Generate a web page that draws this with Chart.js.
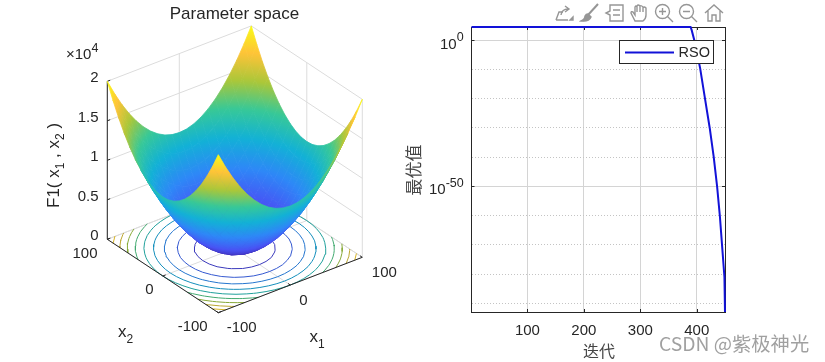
<!DOCTYPE html>
<html>
<head>
<meta charset="utf-8">
<title>Parameter space</title>
<script src="https://cdn.jsdelivr.net/npm/chart.js@4"></script>
<style>
  html, body { margin: 0; padding: 0; background: #fff; overflow: hidden; }
  #page { position: relative; width: 825px; height: 362px; }
  canvas { position: absolute; top: 0; }
  #surfaceChart { left: 0; }
  #curveChart { left: 400px; }
  .tool { position: absolute; top: 3px; width: 20px; height: 20px; fill: none; stroke: #969696; stroke-width: 1.4; }
</style>
</head>
<body>
<div id="page">
  <canvas id="surfaceChart" width="400" height="362"></canvas>
  <canvas id="curveChart" width="425" height="362"></canvas>
  <svg class="tool" style="left:554px" viewBox="0 0 20 20"><path d="M2 17 L5 9 H9 M2 17 H14"/><path d="M7 12 Q8 6 14 6 M11 3 L15 6 L11 9"/><path d="M16 17 L19 17 L19 14 Z" fill="#969696"/></svg>
  <svg class="tool" style="left:579px" viewBox="0 0 20 20"><path d="M19 1 L9 12" stroke-width="2"/><path d="M9 11 L12 14 Q10 19 2 18 Q6 16 6 13 Q7 11 9 11 Z" fill="#969696"/></svg>
  <svg class="tool" style="left:604px" viewBox="0 0 20 20"><path d="M6 2 H19 V18 H6 V12 L2 10 L6 8 Z"/><path d="M9 7 H16 M9 12 H16"/></svg>
  <svg class="tool" style="left:629px" viewBox="0 0 20 20"><path d="M6 18 L2 10 Q2 8 4 9 L6 12 V4 Q7 2 8 4 V9 V3 Q9 1 11 3 V9 V3 Q12 2 14 4 V9 V5 Q15 3 17 5 V12 Q17 16 14 18 Z"/></svg>
  <svg class="tool" style="left:654px" viewBox="0 0 20 20"><circle cx="8.5" cy="8.5" r="7"/><path d="M13.5 13.5 L19 19 M5 8.5 H12 M8.5 5 V12"/></svg>
  <svg class="tool" style="left:678px" viewBox="0 0 20 20"><circle cx="8.5" cy="8.5" r="7"/><path d="M13.5 13.5 L19 19 M5 8.5 H12"/></svg>
  <svg class="tool" style="left:704px" viewBox="0 0 20 20"><path d="M1 10 L10 2 L19 10 M4 8 V18 H8 V12 H12 V18 H16 V8"/></svg>
</div>
<script>
// surface grid (F1 in hundreds)
const gridX1 = [-100, -90, -80, -70, -60, -50, -40, -30, -20, -10, 0, 10, 20, 30, 40, 50, 60, 70, 80, 90, 100];
const gridX2 = [-100, -90, -80, -70, -60, -50, -40, -30, -20, -10, 0, 10, 20, 30, 40, 50, 60, 70, 80, 90, 100];
const surfaceHundreds = [
  [200,181,164,149,136,125,116,109,104,101,100,101,104,109,116,125,136,149,164,181,200],
  [181,162,145,130,117,106,97,90,85,82,81,82,85,90,97,106,117,130,145,162,181],
  [164,145,128,113,100,89,80,73,68,65,64,65,68,73,80,89,100,113,128,145,164],
  [149,130,113,98,85,74,65,58,53,50,49,50,53,58,65,74,85,98,113,130,149],
  [136,117,100,85,72,61,52,45,40,37,36,37,40,45,52,61,72,85,100,117,136],
  [125,106,89,74,61,50,41,34,29,26,25,26,29,34,41,50,61,74,89,106,125],
  [116,97,80,65,52,41,32,25,20,17,16,17,20,25,32,41,52,65,80,97,116],
  [109,90,73,58,45,34,25,18,13,10,9,10,13,18,25,34,45,58,73,90,109],
  [104,85,68,53,40,29,20,13,8,5,4,5,8,13,20,29,40,53,68,85,104],
  [101,82,65,50,37,26,17,10,5,2,1,2,5,10,17,26,37,50,65,82,101],
  [100,81,64,49,36,25,16,9,4,1,0,1,4,9,16,25,36,49,64,81,100],
  [101,82,65,50,37,26,17,10,5,2,1,2,5,10,17,26,37,50,65,82,101],
  [104,85,68,53,40,29,20,13,8,5,4,5,8,13,20,29,40,53,68,85,104],
  [109,90,73,58,45,34,25,18,13,10,9,10,13,18,25,34,45,58,73,90,109],
  [116,97,80,65,52,41,32,25,20,17,16,17,20,25,32,41,52,65,80,97,116],
  [125,106,89,74,61,50,41,34,29,26,25,26,29,34,41,50,61,74,89,106,125],
  [136,117,100,85,72,61,52,45,40,37,36,37,40,45,52,61,72,85,100,117,136],
  [149,130,113,98,85,74,65,58,53,50,49,50,53,58,65,74,85,98,113,130,149],
  [164,145,128,113,100,89,80,73,68,65,64,65,68,73,80,89,100,113,128,145,164],
  [181,162,145,130,117,106,97,90,85,82,81,82,85,90,97,106,117,130,145,162,181],
  [200,181,164,149,136,125,116,109,104,101,100,101,104,109,116,125,136,149,164,181,200]
];
const contourLevels = [2000, 4000, 6000, 8000, 10000, 12000, 14000, 16000, 18000];
const horizontalTicks = [-100, 0, 100];
const heightTicks = [0, 5000, 10000, 15000, 20000];
const heightTickLabels = ["0", "0.5", "1", "1.5", "2"];
const parula = [[62,38,168],[72,82,244],[46,135,247],[18,177,214],[55,200,151],[171,199,57],[254,195,56],[249,251,21]];

// convergence curve
const seriesName = "RSO";
const iterations = [1, 389, 391, 397, 406, 414, 423, 430, 436, 441, 445, 449, 450];
const bestValues = [3.5e4, 3.5e4, 3e3, 1e-1, 2.5e-10, 5e-20, 8e-31, 1.3e-40, 1e-50, 4e-61, 2e-71, 1e-81, 1e-93];
const iterationTicks = [100, 200, 300, 400];
const majorDecades = [0, -50];
const minorDecades = [-10, -20, -30, -40, -60, -70, -80, -90];

const SANS = '"Liberation Sans", Arial, sans-serif';
const CJK = '"Noto Sans CJK SC", sans-serif';
const INK = "#262626";

function project(x1, x2, z) {
  return {
    x: 234.8 + x1 * 0.72 - x2 * 0.555,
    y: 248.3 - x1 * 0.277 - x2 * 0.367 - z * 0.0079
  };
}

function heightColor(z, dim) {
  let t = Math.max(0, Math.min(1, z / 20000)) * (parula.length - 1);
  let i = Math.min(parula.length - 2, Math.floor(t));
  let f = t - i;
  let c = [0, 1, 2].map((k) => Math.round((parula[i][k] + (parula[i + 1][k] - parula[i][k]) * f) * (dim || 1)));
  return `rgb(${c[0]},${c[1]},${c[2]})`;
}

// shade one mesh cell along its height gradient, like shading interp
function cellFill(chart, pts, zs) {
  let zLow = Math.min(...zs), zHigh = Math.max(...zs);
  let flat = heightColor((zLow + zHigh) / 2);
  let px = pts.map((p) => ({ x: chart.scales.x.getPixelForValue(p.x), y: chart.scales.y.getPixelForValue(p.y) }));
  if (!isFinite(px[0].x) || !isFinite(px[0].y) || zHigh - zLow < 1) return flat;
  let ax = px[2].x - px[0].x, ay = px[2].y - px[0].y, az = zs[2] - zs[0];
  let bx = px[3].x - px[1].x, by = px[3].y - px[1].y, bz = zs[3] - zs[1];
  let det = ax * by - ay * bx;
  if (Math.abs(det) < 4) return flat;
  let gx = (az * by - ay * bz) / det, gy = (ax * bz - az * bx) / det;
  let g2 = gx * gx + gy * gy;
  if (g2 === 0) return flat;
  let s0 = (zLow - zs[0]) / g2, s1 = (zHigh - zs[0]) / g2;
  let grad = chart.ctx.createLinearGradient(px[0].x + gx * s0, px[0].y + gy * s0, px[0].x + gx * s1, px[0].y + gy * s1);
  for (let k = 0; k <= 8; k++) grad.addColorStop(k / 8, heightColor(zLow + (zHigh - zLow) * k / 8));
  return grad;
}

function lineSet(data, color, width) {
  return { data, showLine: true, borderColor: color, borderWidth: width, pointRadius: 0, fill: false, clip: false, spanGaps: false, tension: 0 };
}

function contourSet(level) {
  let segs = [];
  let edge = (i0, j0, i1, j1) => {
    let a = surfaceHundreds[i0][j0] * 100, b = surfaceHundreds[i1][j1] * 100;
    if ((a < level) === (b < level)) return null;
    let f = (level - a) / (b - a);
    return project(gridX1[i0] + (gridX1[i1] - gridX1[i0]) * f, gridX2[j0] + (gridX2[j1] - gridX2[j0]) * f, 0);
  };
  for (let i = 0; i < gridX1.length - 1; i++) {
    for (let j = 0; j < gridX2.length - 1; j++) {
      let hits = [edge(i, j, i + 1, j), edge(i + 1, j, i + 1, j + 1), edge(i + 1, j + 1, i, j + 1), edge(i, j + 1, i, j)].filter(Boolean);
      if (hits.length >= 2) segs.push(hits[0], hits[1], { x: NaN, y: NaN });
    }
  }
  return lineSet(segs, heightColor(level, 0.85), 1);
}

function buildSurfaceSets() {
  let sets = [];
  let wall = "#dcdcdc";
  // back walls and floor grid
  heightTicks.forEach((z) => {
    sets.push(lineSet([project(-100, 100, z), project(100, 100, z), project(100, -100, z)], wall, 1));
  });
  horizontalTicks.forEach((v) => {
    sets.push(lineSet([project(v, -100, 0), project(v, 100, 0), project(v, 100, 20000)], wall, 1));
    sets.push(lineSet([project(-100, v, 0), project(100, v, 0), project(100, v, 20000)], wall, 1));
  });
  contourLevels.forEach((l) => sets.push(contourSet(l)));
  // axes
  sets.push(lineSet([project(100, -100, 0), project(-100, -100, 0), project(-100, 100, 0), project(-100, 100, 20000)], INK, 1));
  horizontalTicks.forEach((v) => {
    sets.push(lineSet([project(v, -100, 0), project(v, -96, 0)], INK, 1));
    sets.push(lineSet([project(-100, v, 0), project(-96, v, 0)], INK, 1));
  });
  heightTicks.forEach((z) => sets.push(lineSet([project(-100, 100, z), project(-96, 100, z)], INK, 1)));
  // mesh, far corner first so the near cells paint over it
  for (let i = gridX1.length - 2; i >= 0; i--) {
    for (let j = gridX2.length - 2; j >= 0; j--) {
      let zs = [surfaceHundreds[i][j], surfaceHundreds[i + 1][j], surfaceHundreds[i + 1][j + 1], surfaceHundreds[i][j + 1]].map((v) => v * 100);
      let pts = [project(gridX1[i], gridX2[j], zs[0]), project(gridX1[i + 1], gridX2[j], zs[1]), project(gridX1[i + 1], gridX2[j + 1], zs[2]), project(gridX1[i], gridX2[j + 1], zs[3])];
      let paint = (ctx) => cellFill(ctx.chart, pts, zs);
      sets.push({ data: [...pts, pts[0]], showLine: true, fill: "shape", backgroundColor: paint, borderColor: paint, borderWidth: 0.8, pointRadius: 0, clip: false, tension: 0 });
    }
  }
  // chart.js paints the last dataset first
  return sets.reverse();
}

function text(ctx, str, x, y, size, align, font) {
  ctx.font = `${size}px ${font || SANS}`;
  ctx.textAlign = align || "center";
  ctx.textBaseline = "middle";
  ctx.fillText(str, x, y);
}

// text made of pieces with their own size and baseline shift
function runs(ctx, parts, x, y) {
  ctx.textAlign = "left";
  ctx.textBaseline = "alphabetic";
  parts.forEach((p) => {
    ctx.font = `${p[1]}px ${SANS}`;
    ctx.fillText(p[0], x, y + (p[2] || 0));
    x += ctx.measureText(p[0]).width;
  });
}

const surfaceLabels = {
  id: "surfaceLabels",
  afterDraw(chart) {
    let ctx = chart.ctx;
    ctx.save();
    ctx.fillStyle = INK;
    text(ctx, "Parameter space", 234.5, 14, 17);
    runs(ctx, [["×", 15], ["10", 15], ["4", 12.5, -7]], 66, 59);
    let tickY = [236, 197, 157, 118, 78];
    heightTickLabels.forEach((t, i) => text(ctx, t, 98.5, tickY[i], 15, "right"));
    let x2Pos = [[192.7, 326.7], [149.3, 290], [85, 254.3]];
    let x1Pos = [[241.7, 328.3], [303.3, 300.7], [384.3, 273.3]];
    horizontalTicks.forEach((v, i) => {
      text(ctx, String(v), x2Pos[i][0], x2Pos[i][1], 15);
      text(ctx, String(v), x1Pos[i][0], x1Pos[i][1], 15);
    });
    runs(ctx, [["x", 17], ["2", 12, 6]], 118, 337);
    runs(ctx, [["x", 17], ["1", 12, 6]], 309.5, 342);
    ctx.translate(59.3, 208);
    ctx.rotate(-Math.PI / 2);
    runs(ctx, [["F1( x", 17], ["1", 12, 5], [" , x", 17], ["2", 12, 5], [" )", 17]], 0, 0);
    ctx.restore();
  }
};

const curveDecor = {
  id: "curveDecor",
  beforeDatasetsDraw(chart) {
    let ctx = chart.ctx, a = chart.chartArea;
    ctx.save();
    ctx.strokeStyle = INK;
    ctx.lineWidth = 1;
    ctx.strokeRect(Math.floor(a.left) + 0.5, Math.floor(a.top) + 0.5, Math.round(a.right - a.left), Math.round(a.bottom - a.top));
    ctx.beginPath();
    iterationTicks.forEach((v) => {
      let x = Math.round(chart.scales.x.getPixelForValue(v)) + 0.5;
      ctx.moveTo(x, a.bottom); ctx.lineTo(x, a.bottom - 3);
      ctx.moveTo(x, a.top); ctx.lineTo(x, a.top + 3);
    });
    majorDecades.forEach((d) => {
      let y = Math.round(chart.scales.y.getPixelForValue(Math.pow(10, d))) + 0.5;
      ctx.moveTo(a.left, y); ctx.lineTo(a.left + 3, y);
      ctx.moveTo(a.right, y); ctx.lineTo(a.right - 3, y);
    });
    ctx.stroke();
    ctx.restore();
  },
  afterDraw(chart) {
    let ctx = chart.ctx;
    ctx.save();
    // legend box sits on top of the curve
    ctx.fillStyle = "#fff";
    ctx.fillRect(219.5, 40.5, 94, 23);
    ctx.strokeStyle = INK;
    ctx.lineWidth = 1;
    ctx.strokeRect(219.5, 40.5, 94, 23);
    ctx.strokeStyle = "#1212d8";
    ctx.lineWidth = 2;
    ctx.beginPath();
    ctx.moveTo(225, 52.5);
    ctx.lineTo(274, 52.5);
    ctx.stroke();
    ctx.fillStyle = INK;
    text(ctx, seriesName, 278.5, 53, 14.5, "left");
    // y tick labels
    runs(ctx, [["10", 15], ["0", 12.5, -8]], 40, 49);
    runs(ctx, [["10", 15], ["-50", 12.5, -7]], 29, 194);
    ctx.fillStyle = "#454545";
    text(ctx, "迭代", 199, 351, 16, "center", CJK);
    ctx.save();
    ctx.translate(14, 170);
    ctx.rotate(-Math.PI / 2);
    text(ctx, "最优值", 0, 0, 17, "center", CJK);
    ctx.restore();
    ctx.fillStyle = "rgba(120,120,120,0.7)";
    text(ctx, "CSDN @紫极神光", 259, 343.5, 19.3, "left", CJK);
    ctx.restore();
  }
};

new Chart(document.getElementById("surfaceChart").getContext("2d"), {
  type: "scatter",
  data: { datasets: buildSurfaceSets() },
  plugins: [surfaceLabels],
  options: {
    responsive: false,
    animation: false,
    events: [],
    layout: { padding: 0 },
    plugins: { legend: { display: false }, tooltip: { enabled: false } },
    scales: {
      x: { type: "linear", min: 0, max: 400, display: false },
      y: { type: "linear", min: 0, max: 362, reverse: true, display: false }
    }
  }
});

new Chart(document.getElementById("curveChart").getContext("2d"), {
  type: "line",
  data: {
    datasets: [{
      label: seriesName,
      data: iterations.map((v, i) => ({ x: v, y: bestValues[i] })),
      borderColor: "#1212d8",
      borderWidth: 2,
      pointRadius: 0,
      tension: 0,
      fill: false,
      clip: false
    }]
  },
  plugins: [curveDecor],
  options: {
    responsive: false,
    animation: false,
    events: [],
    layout: { padding: { top: 27, right: 100, left: 0, bottom: 0 } },
    plugins: { legend: { display: false }, tooltip: { enabled: false } },
    scales: {
      x: {
        type: "linear",
        min: 1,
        max: 450,
        afterBuildTicks: (s) => { s.ticks = iterationTicks.map((v) => ({ value: v })); },
        afterFit: (s) => { s.height = 50; },
        grid: { color: "#d4d4d4", drawTicks: false },
        border: { display: false },
        ticks: { color: INK, font: { size: 15, family: SANS }, padding: 10, autoSkip: false, maxRotation: 0 }
      },
      y: {
        type: "logarithmic",
        min: 1e-93,
        max: 3.55e4,
        afterBuildTicks: (s) => { s.ticks = majorDecades.concat(minorDecades).map((d) => ({ value: Math.pow(10, d) })); },
        afterFit: (s) => { s.width = 71.5; },
        grid: {
          drawTicks: false,
          color: (c) => majorDecades.includes(Math.round(Math.log10(c.tick.value))) ? "#d4d4d4" : "#c4c4c4"
        },
        border: { display: false, dash: (c) => c.tick && majorDecades.includes(Math.round(Math.log10(c.tick.value))) ? [] : [1, 2] },
        ticks: { display: false, autoSkip: false }
      }
    }
  }
});
</script>
</body>
</html>
